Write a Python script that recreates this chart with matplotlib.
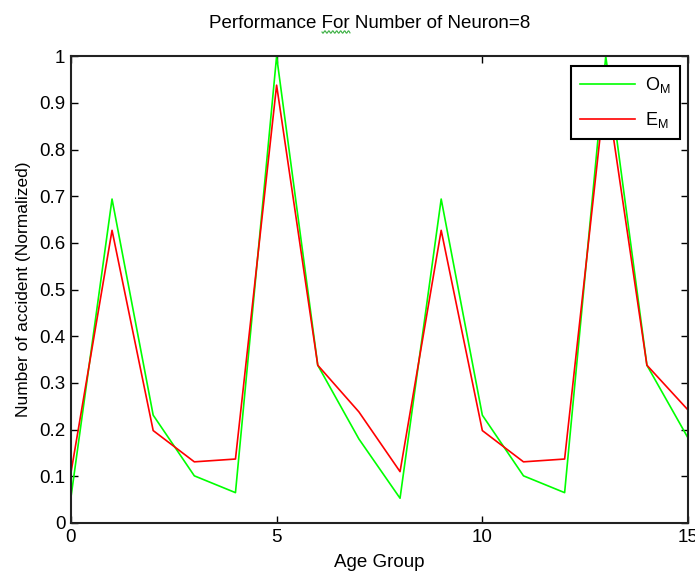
import matplotlib
matplotlib.use("Agg")
import matplotlib.pyplot as plt
import numpy as np

plt.rcParams['font.family'] = ['Liberation Sans', 'DejaVu Sans']
plt.rcParams['mathtext.default'] = 'regular'

# age groups 0..15
age = list(range(16))
observed = [0.054, 0.694, 0.231, 0.101, 0.065, 1.0, 0.338, 0.180,
            0.053, 0.694, 0.231, 0.101, 0.065, 1.0, 0.338, 0.182]
estimated = [0.107, 0.627, 0.198, 0.131, 0.137, 0.938, 0.338, 0.238,
             0.110, 0.627, 0.198, 0.131, 0.137, 0.938, 0.338, 0.242]

yticks = [0, 0.1, 0.2, 0.3, 0.4, 0.5, 0.6, 0.7, 0.8, 0.9, 1]
ylabels = ['0', '0.1', '0.2', '0.3', '0.4', '0.5', '0.6', '0.7', '0.8', '0.9', '1']
xticks = [0, 5, 10, 15]

fig = plt.figure(figsize=(6.95, 5.72), dpi=100)
ax = fig.add_axes([0.102, 0.0857, 0.888, 0.816])

ax.plot(age, observed, color='#00ff00', lw=1.2, label=r'O$_{M}$')
ax.plot(age, estimated, color='#ff0000', lw=1.2, label=r'E$_{M}$')

ax.set_xlim(0, 15)
ax.set_ylim(0, 1)
ax.set_xticks(xticks)
ax.set_xticklabels([str(t) for t in xticks])
ax.set_yticks(yticks)
ax.set_yticklabels(ylabels)
ax.tick_params(direction='in', top=True, right=True, length=5, width=1,
               labelsize=13.5, pad=4, colors='black')
for s in ax.spines.values():
    s.set_linewidth(1.5)
    s.set_color('#222222')

ax.set_title('Performance For Number of Neuron=8', fontsize=13.5, pad=20, x=0.4845)
ax.set_xlabel('Age Group', fontsize=13.5, labelpad=6)
ax.set_ylabel('Number of accident (Normalized)', fontsize=12.5, labelpad=6)

leg = ax.legend(loc='upper right', fontsize=13, handlelength=3.0,
                fancybox=False, framealpha=1, borderpad=0.5,
                borderaxespad=0, handletextpad=0.6,
                bbox_to_anchor=(0.987, 0.979), labelspacing=0.85)
leg.get_frame().set_edgecolor('black')
leg.get_frame().set_linewidth(1.5)

# spell-check squiggle under "For" in the title
wx = np.linspace(322, 350, 60)
wy = 32 + 1.2 * np.sin((wx - 322) * 1.6)
fig.add_artist(plt.Line2D(wx / 695, 1 - wy / 572, color='#3cb043', lw=0.8,
                          transform=fig.transFigure))

fig.savefig('out.png', dpi=100)
